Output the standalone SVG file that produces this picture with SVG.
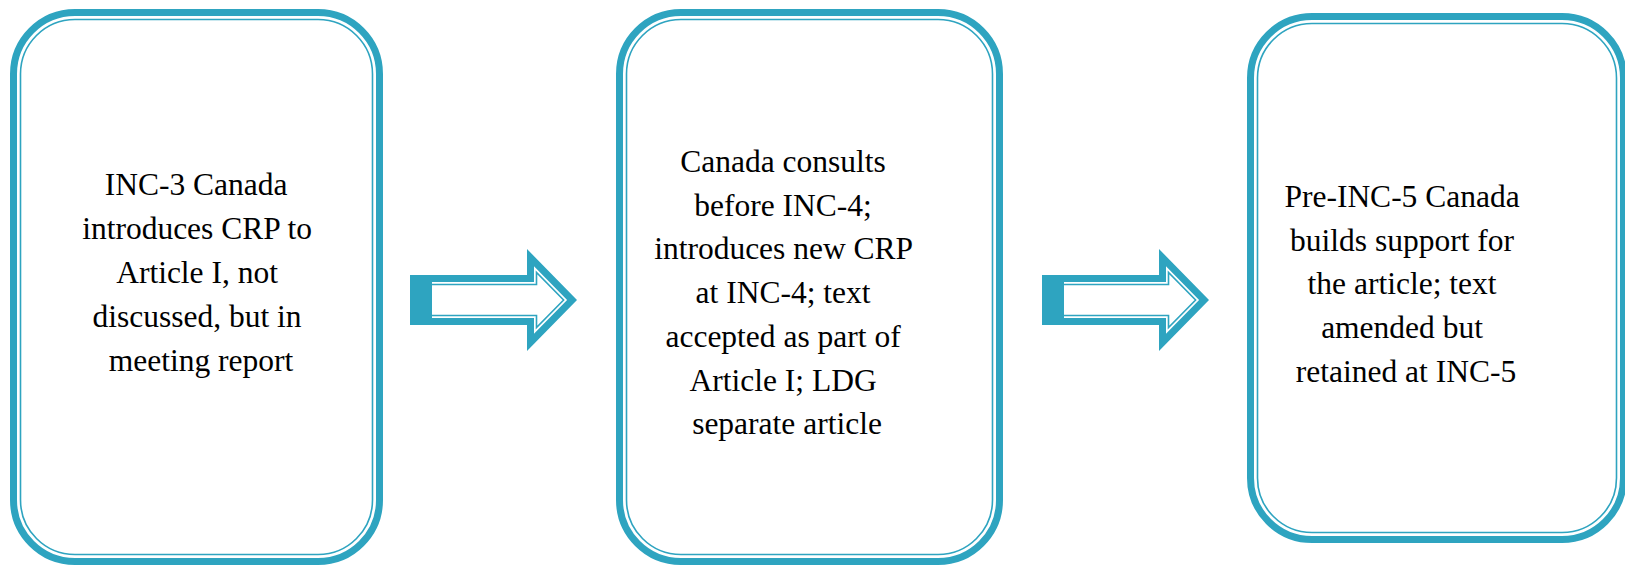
<svg xmlns="http://www.w3.org/2000/svg" xmlns:xlink="http://www.w3.org/1999/xlink" width="1625" height="566" viewBox="0 0 1625 566">
<style>
.outer{fill:#fff;stroke:#2EA4C0;stroke-width:7}
.inner{fill:none;stroke:#2EA4C0;stroke-width:1.6}
.lbl{font-family:"Liberation Serif","Times New Roman",serif;font-size:31.5px;fill:#000;text-anchor:middle}
.af{fill:#2EA4C0}
.aw{fill:#fff}
.at{fill:#fff;stroke:#2EA4C0;stroke-width:1.6}
</style>
<defs>
<g id="arrow">
<path class="af" d="M410,275 H527 V249 L577,300 L527,351 V325 H410 Z"/>
<path class="aw" d="M417,282 H534 V266.2 L567.1,300 L534,333.8 V318 H417 Z"/>
<path class="at" d="M419,284.5 H536.5 V272.4 L563.6,300 L536.5,327.6 V315.5 H419 Z"/>
<rect class="af" x="410" y="275" width="22" height="50"/>
</g>
</defs>
<g id="connectors">
<use xlink:href="#arrow"/>
<use xlink:href="#arrow" transform="translate(632,0)"/>
</g>
<g id="node1">
<rect class="outer" x="13.5" y="12.5" width="366" height="549" rx="61.5" ry="61.5"/>
<rect class="inner" x="20.5" y="19.5" width="352" height="535" rx="54.5" ry="54.5"/>
<text class="lbl">
<tspan x="200" y="195">INC-3 Canada</tspan>
<tspan x="201" y="239">introduces CRP to</tspan>
<tspan x="201" y="283">Article I, not</tspan>
<tspan x="201" y="327">discussed, but in</tspan>
<tspan x="201" y="371">meeting report</tspan>
</text>
</g>
<g id="node2">
<rect class="outer" x="619.5" y="12.5" width="380" height="549" rx="61.5" ry="61.5"/>
<rect class="inner" x="626.5" y="19.5" width="366" height="535" rx="54.5" ry="54.5"/>
<text class="lbl">
<tspan x="787" y="172">Canada consults</tspan>
<tspan x="787" y="215.7">before INC-4;</tspan>
<tspan x="787" y="259.4">introduces new CRP</tspan>
<tspan x="787" y="303.1">at INC-4; text</tspan>
<tspan x="787" y="346.8">accepted as part of</tspan>
<tspan x="787" y="390.5">Article I; LDG</tspan>
<tspan x="787" y="434.2">separate article</tspan>
</text>
</g>
<g id="node3">
<rect class="outer" x="1250.5" y="16.5" width="373" height="523" rx="61.5" ry="61.5"/>
<rect class="inner" x="1257.5" y="23.5" width="359" height="509" rx="54.5" ry="54.5"/>
<text class="lbl">
<tspan x="1406" y="207">Pre-INC-5 Canada</tspan>
<tspan x="1406" y="250.7">builds support for</tspan>
<tspan x="1406" y="294.4">the article; text</tspan>
<tspan x="1406" y="338.1">amended but</tspan>
<tspan x="1406" y="381.8">retained at INC-5</tspan>
</text>
</g>
</svg>
